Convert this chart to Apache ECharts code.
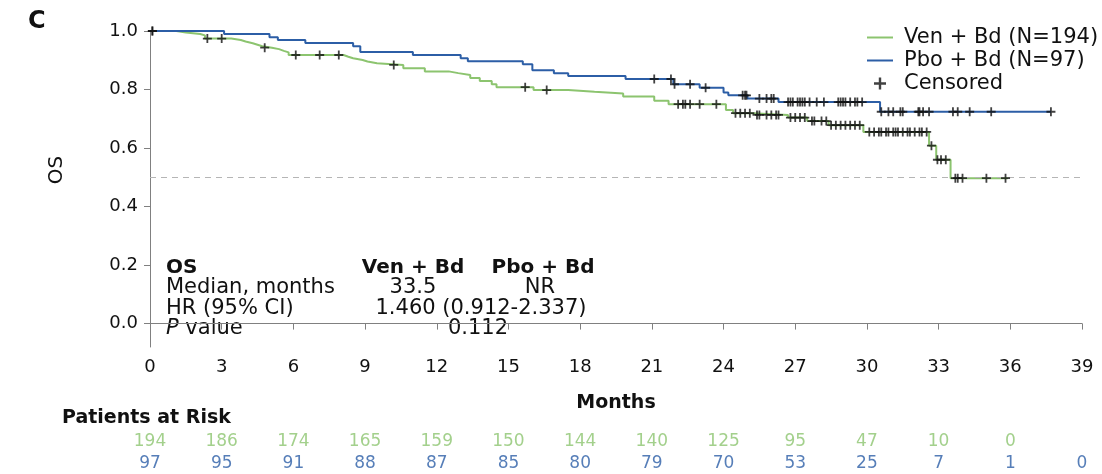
<!DOCTYPE html>
<html>
<head>
<meta charset="utf-8">
<script src="https://cdn.jsdelivr.net/npm/echarts@6/dist/echarts.min.js"></script>
<style>
  html, body { margin: 0; padding: 0; background: #fff; }
  #chart { width: 1102px; height: 474px; }
</style>
</head>
<body>
<div id="chart"></div>
<script>
// Kaplan–Meier overall survival, Ven + Bd vs Pbo + Bd
const GREEN = '#8cc46f';
const BLUE = '#2c5ea6';

// Ven + Bd step curve: time of each drop (months) and survival after it
const venTimes = [0, 1.1, 1.5, 2.1, 2.3, 3.4, 3.8, 4.0, 4.3, 4.5, 4.7, 5.1, 5.4, 5.6, 5.8,
  8.1, 8.3, 8.5, 8.9, 9.1, 9.5, 10.6, 11.5, 12.5, 12.9, 13.4, 13.8, 14.3, 14.5, 16.05,
  17.5, 18.6, 19.8, 21.1, 21.7, 24.1, 24.4, 25.2, 26.7, 27.5, 28.4, 29.85, 32.6, 32.9, 33.5, 35.9];
const venSurv = [1.0, 0.995, 0.990, 0.985, 0.974, 0.969, 0.964, 0.958, 0.953, 0.948, 0.943, 0.938, 0.932, 0.927, 0.918,
  0.912, 0.907, 0.901, 0.896, 0.890, 0.884, 0.873, 0.862, 0.856, 0.850, 0.839, 0.829, 0.818, 0.808, 0.798,
  0.792, 0.786, 0.776, 0.762, 0.750, 0.730, 0.719, 0.713, 0.704, 0.692, 0.678, 0.655, 0.608, 0.560, 0.497, 0.497];

// Pbo + Bd step curve
const pboTimes = [0, 3.1, 5.0, 5.35, 6.5, 8.5, 8.8, 11.0, 13.0, 13.3, 15.6, 16.0, 16.9, 17.5,
  19.9, 21.9, 23.0, 24.0, 24.2, 25.0, 26.3, 30.55, 37.7];
const pboSurv = [1.0, 0.990, 0.979, 0.969, 0.959, 0.948, 0.928, 0.918, 0.907, 0.897, 0.886, 0.866, 0.856, 0.846,
  0.836, 0.818, 0.806, 0.790, 0.780, 0.769, 0.757, 0.724, 0.724];

// Censoring times (months)
const venCensor = [0.1, 2.4, 3.0, 4.8, 6.1, 7.1, 7.9, 10.2, 15.7, 16.6, 22.1, 22.3, 22.4, 22.6, 23.0, 23.7,
  24.5, 24.7, 24.9, 25.1, 25.4, 25.5, 25.8, 26.0, 26.2, 26.3, 26.8, 27.0, 27.2, 27.4, 27.7, 27.8, 28.1,
  28.3, 28.5, 28.7, 28.9, 29.1, 29.3, 29.5, 29.7, 30.1, 30.3, 30.5, 30.6, 30.8, 30.9, 31.1, 31.2, 31.3,
  31.5, 31.7, 31.8, 32.0, 32.2, 32.3, 32.5, 32.7, 32.95, 33.1, 33.3, 33.7, 33.8, 34.0, 35.0, 35.8];
const pboCensor = [0.1, 21.1, 21.8, 21.95, 22.6, 23.25, 24.8, 24.9, 24.96, 25.5, 25.8, 26.0, 26.1, 26.7,
  26.8, 26.9, 27.1, 27.2, 27.3, 27.4, 27.6, 27.9, 28.2, 28.8, 28.9, 29.0, 29.1, 29.3, 29.5, 29.6, 29.8,
  30.6, 30.9, 31.1, 31.4, 31.5, 32.15, 32.2, 32.35, 32.6, 33.6, 33.8, 34.3, 35.2, 37.7];

// Number at risk
const riskMonths = [0, 3, 6, 9, 12, 15, 18, 21, 24, 27, 30, 33, 36, 39];
const venRisk = [194, 186, 174, 165, 159, 150, 144, 140, 125, 95, 47, 10, 0];
const pboRisk = [97, 95, 91, 88, 87, 85, 80, 79, 70, 53, 25, 7, 1, 0];

const yTicks = [0, 0.2, 0.4, 0.6, 0.8, 1.0];

function levelAt(times, surv, t) {
  let s = surv[0];
  for (let i = 0; i < times.length; i++) if (times[i] <= t) s = surv[i];
  return s;
}
const pairs = (xs, ys) => xs.map((x, i) => [x, ys[i]]);
const censorPts = (cs, times, surv) => cs.map(t => [t, levelAt(times, surv, t)]);

const FONT = 'DejaVu Sans';
const plus = 'path://M3.6,0H5.4V3.6H9V5.4H5.4V9H3.6V5.4H0V3.6H3.6Z';
const lineIcon = 'path://M0,0H26V2H0Z';

const chart = echarts.init(document.getElementById('chart'));

const riskData = [];
venRisk.forEach((n, i) => riskData.push({ value: [riskMonths[i], 'Ven', n], label: { color: GREEN } }));
pboRisk.forEach((n, i) => riskData.push({ value: [riskMonths[i], 'Pbo', n], label: { color: BLUE } }));

const txt = (x, y, text, opt = {}, extra = {}) => Object.assign({
  type: 'text', x, y, silent: true,
  style: Object.assign({ text, fill: '#111', font: '21px "DejaVu Sans"', align: 'left', verticalAlign: 'middle' }, opt)
}, extra);

chart.setOption({
  animation: false,
  backgroundColor: '#fff',
  textStyle: { fontFamily: FONT },
  grid: [
    { left: 150, right: 20, top: 31, bottom: 127 },
    { left: 150, right: 20, top: 431, height: 44 }
  ],
  legend: {
    orient: 'vertical', left: 862, top: 22,
    itemWidth: 26, itemHeight: 12, itemGap: 2, symbolKeepAspect: true,
    textStyle: { fontFamily: FONT, fontSize: 21, color: '#111', lineHeight: 20, padding: [0, 0, 0, 6] },
    data: [
      { name: 'Ven + Bd (N=194)', icon: lineIcon },
      { name: 'Pbo + Bd (N=97)', icon: lineIcon },
      { name: 'Censored', icon: plus }
    ]
  },
  xAxis: [
    {
      type: 'value', min: 0, max: 39, interval: 3,
      name: 'Months', nameLocation: 'middle', nameGap: 47,
      nameTextStyle: { fontFamily: FONT, fontWeight: 'bold', fontSize: 19, color: '#111' },
      axisLine: { lineStyle: { color: '#808080', width: 1 } },
      axisTick: { length: 6, lineStyle: { color: '#808080' } },
      axisLabel: { fontFamily: FONT, fontSize: 18, color: '#111', margin: 11 },
      splitLine: { show: false }
    },
    { type: 'value', gridIndex: 1, min: 0, max: 39, show: false }
  ],
  yAxis: [
    {
      type: 'value', min: -0.08, max: 1.0,
      axisLine: { show: true, lineStyle: { color: '#808080', width: 1 } },
      axisTick: { show: true, length: 6, customValues: yTicks, lineStyle: { color: '#808080' } },
      axisLabel: { fontFamily: FONT, fontSize: 18, color: '#111', margin: 12,
        customValues: yTicks, formatter: v => v.toFixed(1) },
      splitLine: { show: false }
    },
    { type: 'category', gridIndex: 1, data: ['Pbo', 'Ven'], show: false }
  ],
  series: [
    {
      name: 'Ven + Bd (N=194)', type: 'line', step: 'end', symbol: 'none',
      data: pairs(venTimes, venSurv),
      lineStyle: { color: GREEN, width: 2 }, itemStyle: { color: GREEN }, z: 3
    },
    {
      name: 'Pbo + Bd (N=97)', type: 'line', step: 'end', symbol: 'none',
      data: pairs(pboTimes, pboSurv),
      lineStyle: { color: BLUE, width: 2 }, itemStyle: { color: BLUE }, z: 3,
      markLine: {
        silent: true, symbol: 'none', label: { show: false },
        lineStyle: { color: '#b5b5b5', type: [6, 5], width: 1 },
        data: [{ yAxis: 0.5 }]
      }
    },
    {
      name: 'Censored', type: 'scatter', symbol: plus, symbolSize: 9, symbolKeepAspect: true,
      data: censorPts(venCensor, venTimes, venSurv),
      itemStyle: { color: '#111' }, z: 5
    },
    {
      name: 'Censored', type: 'scatter', symbol: plus, symbolSize: 9, symbolKeepAspect: true,
      data: censorPts(pboCensor, pboTimes, pboSurv),
      itemStyle: { color: '#111' }, z: 5
    },
    {
      name: 'Patients at Risk', type: 'scatter', xAxisIndex: 1, yAxisIndex: 1,
      symbolSize: 1, itemStyle: { color: 'transparent' }, silent: true,
      label: { show: true, position: 'inside', formatter: p => p.value[2],
        fontFamily: FONT, fontSize: 17 },
      data: riskData
    }
  ],
  graphic: [
    txt(28, 22, 'C', { font: 'bold 24px "DejaVu Sans"' }),
    txt(57, 170, 'OS', { align: 'center', font: '20px "DejaVu Sans"' }, { rotation: Math.PI / 2 }),
    txt(166, 268, 'OS', { font: 'bold 20px "DejaVu Sans"' }),
    txt(166, 288, 'Median, months'),
    txt(166, 309, 'HR (95% CI)'),
    {
      type: 'text', x: 166, y: 329, silent: true,
      style: { text: '{i|P} value', fill: '#111', font: '21px "DejaVu Sans"', verticalAlign: 'middle',
        rich: { i: { fontStyle: 'italic', fontFamily: FONT, fontSize: 21 } } }
    },
    txt(413, 268, 'Ven + Bd', { font: 'bold 20px "DejaVu Sans"', align: 'center' }),
    txt(543, 268, 'Pbo + Bd', { font: 'bold 20px "DejaVu Sans"', align: 'center' }),
    txt(413, 288, '33.5', { align: 'center' }),
    txt(540, 288, 'NR', { align: 'center' }),
    txt(481, 309, '1.460 (0.912-2.337)', { align: 'center' }),
    txt(478, 329, '0.112', { align: 'center' }),
    txt(62, 418, 'Patients at Risk', { font: 'bold 19px "DejaVu Sans"' })
  ]
});
</script>
</body>
</html>
